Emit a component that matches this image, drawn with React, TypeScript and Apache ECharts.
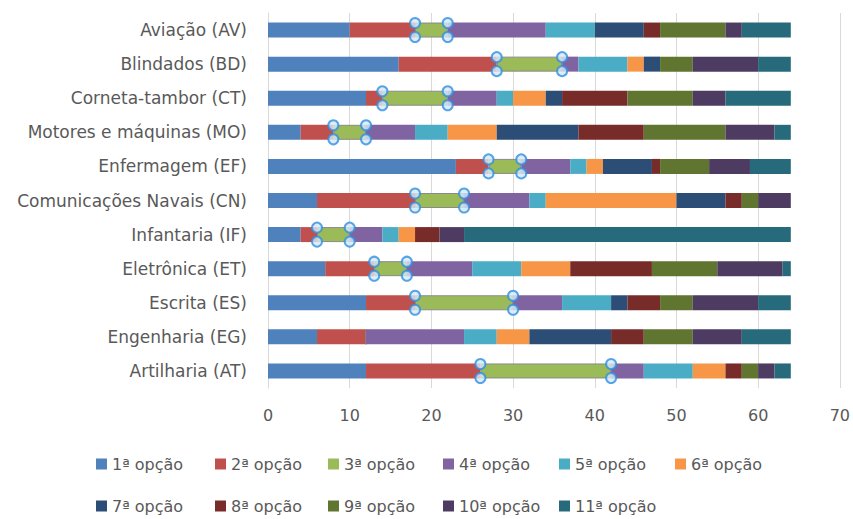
import React, { useEffect, useRef } from "react";
import * as echarts from "echarts";

const categories = [
  "Aviação (AV)",
  "Blindados (BD)",
  "Corneta-tambor (CT)",
  "Motores e máquinas (MO)",
  "Enfermagem (EF)",
  "Comunicações Navais (CN)",
  "Infantaria (IF)",
  "Eletrônica (ET)",
  "Escrita (ES)",
  "Engenharia (EG)",
  "Artilharia (AT)",
];

const seriesNames = [
  "1ª opção", "2ª opção", "3ª opção", "4ª opção", "5ª opção", "6ª opção",
  "7ª opção", "8ª opção", "9ª opção", "10ª opção", "11ª opção",
];

const opt1 = [10, 16, 12, 4, 23, 6, 4, 7, 12, 6, 12];
const opt2 = [8, 12, 2, 4, 4, 12, 2, 6, 6, 6, 14];
const opt3 = [4, 8, 8, 4, 4, 6, 4, 4, 12, 0, 16];
const opt4 = [12, 2, 6, 6, 6, 8, 4, 8, 6, 12, 4];
const opt5 = [6, 6, 2, 4, 2, 2, 2, 6, 6, 4, 6];
const opt6 = [0, 2, 4, 6, 2, 16, 2, 6, 0, 4, 4];
const opt7 = [6, 2, 2, 10, 6, 6, 0, 0, 2, 10, 0];
const opt8 = [2, 0, 8, 8, 1, 2, 3, 10, 4, 4, 2];
const opt9 = [8, 4, 8, 10, 6, 2, 0, 8, 4, 6, 2];
const opt10 = [2, 8, 4, 6, 5, 4, 3, 8, 8, 6, 2];
const opt11 = [6, 4, 8, 2, 5, 0, 40, 1, 4, 6, 2];

const xTicks = { min: 0, max: 70, interval: 10 };

const colors = [
  "#4F81BD", "#C0504D", "#9BBB59", "#8064A2", "#4BACC6", "#F79646",
  "#2C4D75", "#772C2A", "#5F7530", "#4D3B62", "#276A7C",
];

export default function App() {
  const ref = useRef<HTMLDivElement>(null);
  useEffect(() => {
    document.body.style.margin = "0";
    if (!ref.current) return;
    const chart = echarts.init(ref.current, null, { renderer: "svg" });
    const all = [opt1, opt2, opt3, opt4, opt5, opt6, opt7, opt8, opt9, opt10, opt11];
    const font = "'DejaVu Sans', sans-serif";
    const barSeries: any[] = all.map((vals, i) => ({
      name: seriesNames[i],
      type: "bar",
      stack: "total",
      barWidth: 15,
      data: vals,
      itemStyle: i === 2
        ? { color: colors[i], borderColor: "#8a8a8a", borderWidth: 1 }
        : { color: colors[i] },
      emphasis: { disabled: true },
    }));
    // selection handles at ends of the 3rd option segment
    const handles: any[] = [];
    categories.forEach((c, k) => {
      if (opt3[k] <= 0) return;
      const start = opt1[k] + opt2[k];
      const end = start + opt3[k];
      [start, end].forEach((x) => {
        handles.push({ value: [x, k], symbolOffset: [0, -7] });
        handles.push({ value: [x, k], symbolOffset: [0, 7] });
      });
    });
    const handleSeries = {
      type: "scatter",
      data: handles,
      symbol: "circle",
      symbolSize: 10,
      itemStyle: {
        color: "#d4e8f7",
        borderColor: "#2f8ee0",
        borderWidth: 2,
      },
      z: 10,
      silent: true,
    };
    const legendX = [96, 215, 328, 443, 559, 675];
    const legends = seriesNames.map((n, i) => ({
      data: [n],
      left: legendX[i % 6],
      top: i < 6 ? 456 : 498,
      padding: 0,
      icon: "rect",
      itemWidth: 11,
      itemHeight: 11,
      itemGap: 0,
      itemStyle: { borderWidth: 0 },
      textStyle: { color: "#595959", fontSize: 16, fontFamily: font, padding: [0, 0, 0, 0] },
      selectedMode: false,
    }));
    chart.setOption({
      animation: false,
      color: colors,
      grid: { left: 268, right: 13, top: 13, bottom: 131 },
      legend: legends,
      xAxis: {
        type: "value",
        min: xTicks.min,
        max: xTicks.max,
        interval: xTicks.interval,
        axisLine: { show: false },
        axisTick: { show: false },
        splitLine: { lineStyle: { color: "#d9d9d9" } },
        axisLabel: { color: "#595959", fontSize: 16, fontFamily: font, margin: 19 },
      },
      yAxis: {
        type: "category",
        data: categories,
        inverse: true,
        axisTick: { show: false },
        axisLine: { lineStyle: { color: "#d9d9d9" } },
        axisLabel: { color: "#595959", fontSize: 17, fontFamily: font, margin: 21 },
      },
      series: [...barSeries, handleSeries],
    });
    return () => chart.dispose();
  }, []);
  return <div ref={ref} style={{ width: 853, height: 519 }} />;
}
